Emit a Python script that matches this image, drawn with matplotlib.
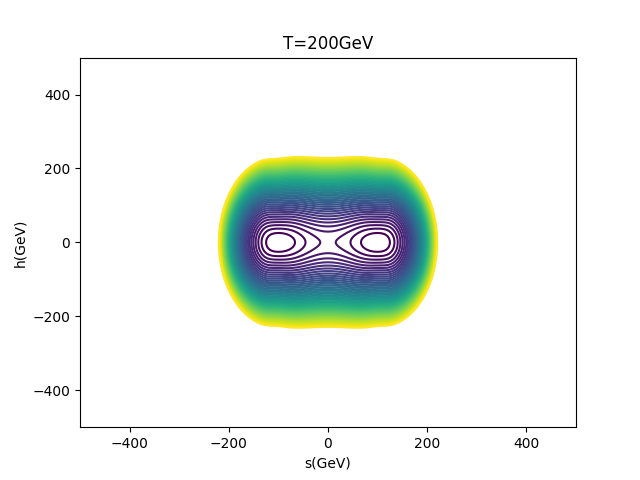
import matplotlib
matplotlib.use("Agg")
import matplotlib.pyplot as plt
import numpy as np

# potential parameters (GeV scale 100)
temperature = 200
s_min = 100.0          # location of the s-minima
saddle_height = 1.0    # V(0,0) - V(s_min,0)
h_mass = 3.15          # h^2 coefficient
h_quartic = -0.1       # h^4 coefficient
cross = 0.12           # s^2 h^2 coefficient
bump_height = 1.8      # extra h curvature near the minima
bump_width = 0.3
bump_reach = 0.6       # h range over which the extra curvature acts

# contour levels
first_level = 0.31
last_level = 14.75
n_levels = 46

s = np.linspace(-500, 500, 1001)
h = np.linspace(-500, 500, 1001)
S, H = np.meshgrid(s, h)

x = S / s_min
y = H / 100.0
bump = bump_height * np.exp(-(x**2 - 1) ** 2 / bump_width) / (1 + (y / bump_reach) ** 2)
V = (saddle_height * (1 - x**2) ** 2
     + y**2 * (h_mass + h_quartic * y**2 + cross * x**2 + bump))

levels = np.linspace(first_level, last_level, n_levels)

fig, ax = plt.subplots(figsize=(6.4, 4.8), dpi=100)
ax.contour(S, H, V, levels=levels, cmap="viridis")
ax.set_xlim(-500, 500)
ax.set_ylim(-500, 500)
ax.set_title(f"T={temperature}GeV")
ax.set_xlabel("s(GeV)")
ax.set_ylabel("h(GeV)")

fig.savefig("out.png", dpi=100)
